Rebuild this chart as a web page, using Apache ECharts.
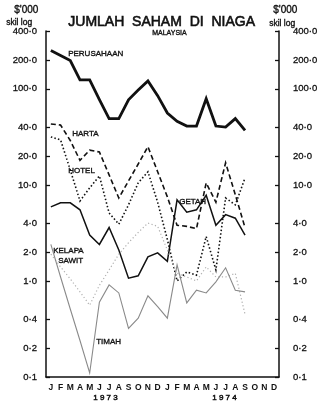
<!DOCTYPE html>
<html><head><meta charset="utf-8">
<script src="https://cdn.jsdelivr.net/npm/echarts@6/dist/echarts.min.js"></script>
<style>html,body{margin:0;padding:0;background:#fff}#c{width:325px;height:404px}</style>
</head><body><div id="c"></div>
<script>
const months = ['J','F','M','A','M','J','J','A','S','O','N','D','J','F','M','A','M','J','J','A','S','O','N','D'];
const yTicks = [0.1, 0.2, 0.4, 1, 2, 4, 10, 20, 40, 100, 200, 400];
const perusahaan = [250, 222, 197, 124, 124, 77, 49, 49, 77, 97, 121, 85, 56, 46, 41, 41, 79, 41, 40, 49, 37];
const harta = [43, 42, 29, 18, 23, 22, 12.7, 7.3, 11, 16.5, 25, 13.7, 7.5, 3.8, 3.7, 3.5, 10.5, 6.6, 17, 7.9, 3.6];
const hotel = [31.6, 29.4, 14.3, 6.8, 9.3, 12.4, 5.1, 3.9, 6.2, 10.5, 13.7, 6.6, 2.7, 1.0, 1.24, 1.15, 2.9, 1.3, 7.3, 6.2, 11.8];
const getah = [5.9, 6.5, 6.5, 5.5, 3.0, 2.4, 3.6, 2.1, 1.07, 1.13, 1.78, 1.96, 1.6, 7.0, 5.2, 5.5, 7.8, 3.8, 4.9, 4.5, 3.0];
const kelapaSawit = [1.9, 1.4, 1.05, 0.77, 0.56, 0.9, 1.3, 1.9, 2.5, 3.2, 4.0, 3.7, 2.1, 1.2, 1.1, 1.0, 1.4, 1.1, 1.1, 1.2, 0.45];
const timah = [2.4, 1.1, 0.51, 0.24, 0.11, 0.6, 0.91, 0.75, 0.32, 0.41, 0.70, 0.54, 0.41, 1.47, 0.59, 0.8, 0.75, 0.98, 1.37, 0.8, 0.77];
const years = ['1 9 7 3', '1 9 7 4'];

const FONT = 'Liberation Sans';
const fmt = v => Number(v).toFixed(1).replace('.', '·');
const chart = echarts.init(document.getElementById('c'), null, {renderer: 'canvas'});

function yAxis(pos) {
  return {
    type: 'log', logBase: 10, min: 0.1, max: 400, position: pos,
    axisLine: {show: true, lineStyle: {color: '#111', width: 1.5}},
    axisTick: {show: true, inside: true, length: 4, customValues: yTicks, lineStyle: {color: '#111', width: 1.3}},
    axisLabel: {customValues: yTicks, formatter: fmt, color: '#111', fontFamily: FONT, fontSize: 9.5,
      textBorderColor: '#111', textBorderWidth: 0.3, margin: pos === 'left' ? 9 : 14},
    splitLine: {show: false}, minorTick: {show: false}
  };
}
function line(name, data, color, width, type) {
  return {name, type: 'line', data, showSymbol: false, symbol: 'none', silent: true,
    lineStyle: {color, width, type, cap: 'butt', join: 'miter'}};
}
const t = (text, x, y, size, extra) => Object.assign({type: 'text', left: x, top: y,
  style: Object.assign({text, fill: '#111', stroke: '#111', lineWidth: 0.35, font: `${size}px "${FONT}"`}, extra || {})});

chart.setOption({
  animation: false,
  backgroundColor: '#fff',
  grid: {left: 46, right: 46, top: 31, bottom: 27},
  xAxis: [{
    type: 'category', data: months, boundaryGap: true,
    axisLine: {lineStyle: {color: '#111', width: 1.5}},
    axisTick: {inside: true, length: 4, interval: 0, lineStyle: {color: '#111', width: 1.2}},
    axisLabel: {interval: 0, color: '#111', fontFamily: FONT, fontSize: 8.5, fontWeight: 'bold', margin: 6}
  }, {
    type: 'category', data: months, boundaryGap: true, position: 'bottom',
    axisLine: {show: false}, axisLabel: {show: false},
    axisTick: {inside: true, length: 10, interval: (i) => i === 12, lineStyle: {color: '#111', width: 1.4}}
  }],
  yAxis: [yAxis('left'), yAxis('right')],
  series: [
    line('PERUSAHAAN', perusahaan, '#111', 2.8, 'solid'),
    line('HARTA', harta, '#111', 1.6, [5, 3]),
    line('HOTEL', hotel, '#111', 1.6, [1.5, 2.2]),
    line('GETAH', getah, '#111', 1.5, 'solid'),
    line('KELAPA SAWIT', kelapaSawit, '#b0b0b0', 1.2, [1.2, 2.4]),
    line('TIMAH', timah, '#8a8a8a', 1.1, 'solid')
  ],
  graphic: [
    t('JUMLAH  SAHAM  DI  NIAGA', 68, 15, 14, {lineWidth: 0.6}),
    t('MALAYSIA', 152, 29, 7),
    t("$'000", 14, 5, 10),
    t('skil log', 6, 18, 8.5),
    t("$'000", 273, 5, 10),
    t('skil log', 269, 19, 8.5),
    t('PERUSAHAAN', 68, 50, 8),
    t('HARTA', 72, 130, 8),
    t('HOTEL', 68, 167, 8),
    t('GETAH', 179, 198, 8),
    t('KELAPA', 53, 247, 8),
    t('SAWIT', 58, 257, 8),
    t('TIMAH', 96, 338, 8),
    t(years[0], 93, 394, 8, {lineWidth: 0.5}),
    t(years[1], 212, 394, 8, {lineWidth: 0.5})
  ]
});
</script></body></html>
